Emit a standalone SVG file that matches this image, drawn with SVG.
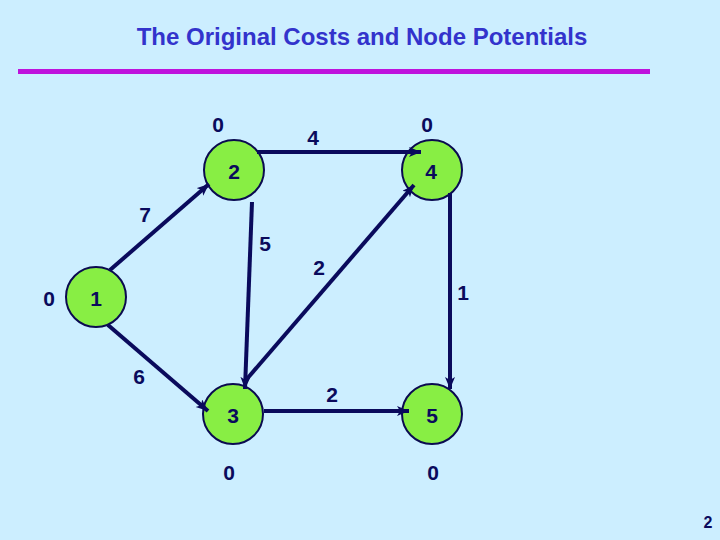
<svg xmlns="http://www.w3.org/2000/svg" width="720" height="540" viewBox="0 0 720 540">
<style>
.bg{fill:#CCEEFF}
.node{fill:#88EE44;stroke:#0A0A50;stroke-width:2}
.edge{stroke:#0A0A5C;stroke-width:4;fill:none;marker-end:url(#arr)}
.lbl{font-family:"Liberation Sans",Arial,sans-serif;font-size:21px;font-weight:bold;fill:#0A0A5C;text-anchor:middle}
.title{font-family:"Liberation Sans",Arial,sans-serif;font-size:24px;font-weight:bold;fill:#3333CC;text-anchor:middle}
</style>
<defs>
<marker id="arr" markerUnits="userSpaceOnUse" markerWidth="14" markerHeight="12" refX="12" refY="5" orient="auto">
<path d="M0,0 L12,5 L0,10 L3,5 z" fill="#0A0A5C"/>
</marker>
</defs>
<rect class="bg" x="0" y="0" width="720" height="540"/>
<text class="title" x="362" y="45">The Original Costs and Node Potentials</text>
<rect x="18" y="69" width="632" height="5" fill="#BE12DC"/>
<g id="node2"><circle class="node" cx="234" cy="170" r="30"/><text class="lbl" x="234" y="179">2</text></g>
<g id="node4"><circle class="node" cx="432" cy="170" r="30"/><text class="lbl" x="431" y="179">4</text></g>
<g id="node1"><circle class="node" cx="96" cy="297" r="30"/><text class="lbl" x="96" y="306">1</text></g>
<g id="node3"><circle class="node" cx="233" cy="414" r="30"/><text class="lbl" x="233" y="423">3</text></g>
<g id="node5"><circle class="node" cx="432" cy="414" r="30"/><text class="lbl" x="432" y="423">5</text></g>
<g id="edges">
<path class="edge" d="M257,152 L421,152"/>
<path class="edge" d="M110,270 L209,184"/>
<path class="edge" d="M252,202 L245,389"/>
<path class="edge" d="M246,380 L414,185"/>
<path class="edge" d="M108,325 L208,411"/>
<path class="edge" d="M264,411 L409,411"/>
<path class="edge" d="M450,193 L450,389"/>
</g>
<g id="labels">
<text class="lbl" x="218" y="132">0</text>
<text class="lbl" x="427" y="132">0</text>
<text class="lbl" x="313" y="145">4</text>
<text class="lbl" x="145" y="222">7</text>
<text class="lbl" x="265" y="251">5</text>
<text class="lbl" x="319" y="275">2</text>
<text class="lbl" x="49" y="306">0</text>
<text class="lbl" x="463" y="300">1</text>
<text class="lbl" x="139" y="384">6</text>
<text class="lbl" x="332" y="402">2</text>
<text class="lbl" x="229" y="480">0</text>
<text class="lbl" x="433" y="480">0</text>
<text class="lbl" x="708" y="528" style="font-size:16px">2</text>
</g>
</svg>
